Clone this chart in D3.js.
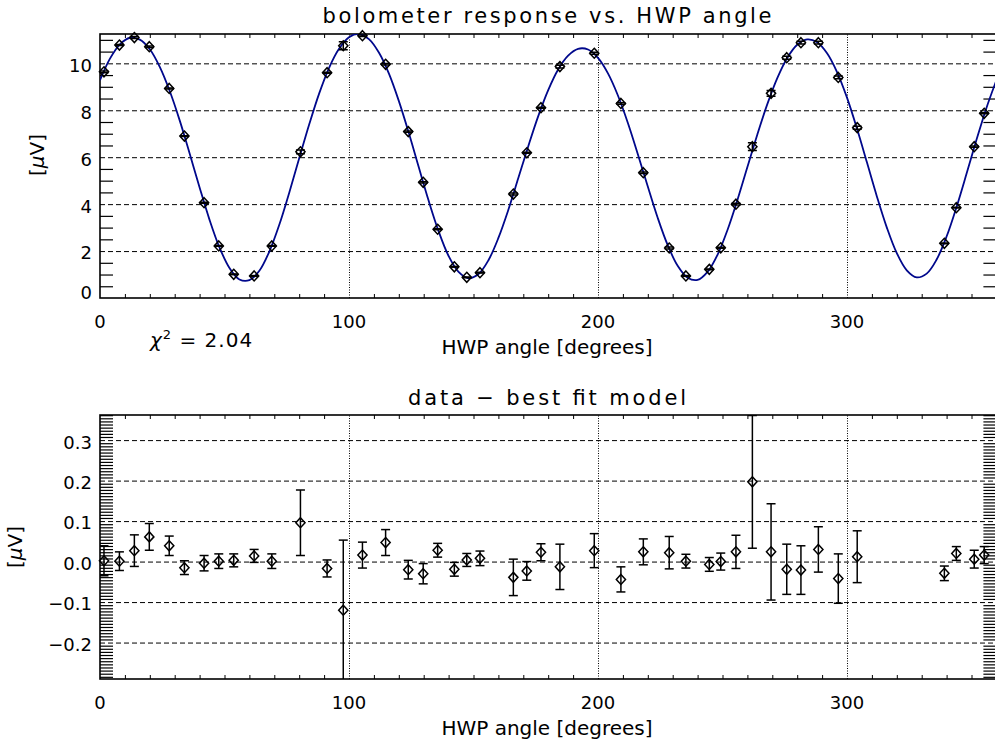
<!DOCTYPE html>
<html><head><meta charset="utf-8">
<script src="https://cdn.jsdelivr.net/npm/d3@7"></script>
<style>
body{margin:0;background:#fff}
text{font-family:"DejaVu Sans",sans-serif;fill:#000}
</style></head>
<body><svg id="chart" width="995" height="744"></svg>
<script>
// HWP angle of each measurement [degrees]
const angles=[1.6,7.8,13.8,19.8,27.8,33.9,41.8,47.7,53.7,61.9,69.0,80.5,91.2,97.7,105.4,114.7,123.8,129.8,135.6,142.3,147.3,152.6,166.0,171.4,177.1,184.7,198.5,209.2,218.2,228.6,235.3,244.7,249.3,255.4,262.0,269.5,275.8,281.5,288.5,296.5,304.1,339.1,343.9,351.1,355.1];
// bolometer response [uV]
const signal=[9.64,10.78,11.10,10.71,8.93,6.90,4.06,2.22,1.01,0.94,2.22,6.23,9.60,10.75,11.18,9.96,7.09,4.93,2.93,1.33,0.88,1.08,4.43,6.19,8.11,9.86,10.43,8.29,5.34,2.13,0.94,1.22,2.14,4.00,6.45,8.72,10.24,10.88,10.88,9.40,7.26,2.33,3.85,6.45,7.87];
// data minus best fit model [uV]
const residual=[0.002,0.001,0.027,0.061,0.039,-0.015,-0.004,0.001,0.003,0.014,0.001,0.096,-0.017,-0.120,0.016,0.047,-0.020,-0.030,0.028,-0.019,0.004,0.008,-0.039,-0.023,0.023,-0.013,0.027,-0.044,0.024,0.022,0.001,-0.007,0.000,0.024,0.197,0.024,-0.019,-0.021,0.030,-0.042,0.012,-0.029,0.020,0.006,0.016];
// 1-sigma uncertainty [uV]
const sigma=[0.037,0.023,0.039,0.033,0.024,0.017,0.019,0.018,0.016,0.016,0.018,0.081,0.021,0.173,0.032,0.032,0.023,0.025,0.017,0.017,0.016,0.018,0.045,0.023,0.021,0.056,0.042,0.031,0.032,0.040,0.017,0.017,0.021,0.041,0.164,0.119,0.062,0.060,0.056,0.061,0.064,0.018,0.017,0.022,0.021];
// best fit model, sampled every 4 degrees from 0 to 360 [uV]
const modelStep=4;
const modelValues=[9.28,10.20,10.81,11.09,11.01,10.60,9.85,8.82,7.57,
6.16,4.71,3.33,2.15,1.28,0.79,0.76,1.16,1.98,
3.12,4.49,5.95,7.39,8.71,9.81,10.62,11.11,11.25,
11.03,10.46,9.57,8.40,7.04,5.58,4.14,2.84,1.79,
1.11,0.84,1.02,1.61,2.56,3.76,5.11,6.47,7.75,
8.86,9.74,10.33,10.62,10.59,10.23,9.57,8.63,7.46,
6.13,4.75,3.41,2.25,1.37,0.86,0.77,1.11,1.84,
2.90,4.18,5.58,6.97,8.26,9.37,10.23,10.79,11.02,
10.90,10.43,9.63,8.54,7.22,5.78,4.33,3.00,1.91,
1.18,0.88,1.04,1.64,2.62,3.88,5.29,6.74,8.10,9.28];
const chiSquared="2.04";
const xLabelTicks=[0,100,200,300];
const xGridTicks=[100,200,300];
const upperLabelTicks=[0,2,4,6,8,10];
const upperGridTicks=[2,4,6,8,10];
const lowerLabelTicks=[-0.2,-0.1,0.0,0.1,0.2,0.3];

const svg=d3.select("#chart");
const x=d3.scaleLinear().domain([0,360]).range([100,996.4]);
const xMinor=d3.range(10,360,10).filter(v=>v%100!==0);

const yUpper=d3.scaleLinear().domain([0,11.25]).range([298,34]);
const yLower=d3.scaleLinear().domain([-0.29,0.362]).range([679,415]);

function styleLines(sel,dash,width){
  sel.select(".domain").remove();
  sel.selectAll("text").remove();
  sel.selectAll("line").attr("stroke","#000").attr("stroke-width",width||1).attr("stroke-dasharray",dash||null);
}

function panel(o){
  const y=o.y;
  const [yb,yt]=y.range();
  const [xl,xr]=x.range();
  const g=svg.append("g");
  const id="clip"+o.key;
  svg.append("clipPath").attr("id",id).append("rect").attr("x",xl).attr("y",yt).attr("width",xr-xl).attr("height",yb-yt);

  // horizontal dashed grid
  g.append("g").attr("transform",`translate(${xl},0)`)
    .call(d3.axisLeft(y).tickValues(o.grid).tickSize(-(xr-xl)))
    .call(s=>styleLines(s,"5,3"));
  // vertical dotted grid
  g.append("g").attr("transform",`translate(0,${yb})`)
    .call(d3.axisBottom(x).tickValues(xGridTicks).tickSize(-(yb-yt)))
    .call(s=>styleLines(s,"1,1.5"));
  // minor ticks on all four sides
  g.append("g").attr("transform",`translate(0,${yb})`)
    .call(d3.axisBottom(x).tickValues(xMinor).tickSize(-4)).call(s=>styleLines(s));
  g.append("g").attr("transform",`translate(0,${yt})`)
    .call(d3.axisTop(x).tickValues(xMinor).tickSize(-4)).call(s=>styleLines(s));
  g.append("g").attr("transform",`translate(${xl},0)`)
    .call(d3.axisLeft(y).tickValues(o.minor).tickSize(-13)).call(s=>styleLines(s,null,o.minorWidth));
  g.append("g").attr("transform",`translate(${xr},0)`)
    .call(d3.axisRight(y).tickValues(o.minor).tickSize(-13)).call(s=>styleLines(s,null,o.minorWidth));
  // frame
  g.append("rect").attr("x",xl).attr("y",yt).attr("width",xr-xl).attr("height",yb-yt)
    .attr("fill","none").attr("stroke","#000").attr("stroke-width",1.6);

  // tick labels
  g.selectAll(".xl").data(xLabelTicks).join("text")
    .attr("x",d=>x(d)).attr("y",yb+30).attr("text-anchor","middle").attr("font-size",18).text(d=>d);
  g.selectAll(".yl").data(o.labels).join("text")
    .attr("x",92).attr("y",d=>Math.min(y(d)+8.4,yb+1.3)).attr("text-anchor","end").attr("font-size",18)
    .text(o.fmt);

  // titles
  g.append("text").attr("x",547).attr("y",o.titleY).attr("text-anchor","middle").attr("font-size",21)
    .attr("textLength",o.titleLen).attr("lengthAdjust","spacing").text(o.title);
  g.append("text").attr("x",547).attr("y",yb+56).attr("text-anchor","middle").attr("font-size",20)
    .attr("textLength",211).attr("lengthAdjust","spacing").text("HWP angle [degrees]");
  const yl=g.append("text").attr("transform",`translate(${o.ylabelX},${o.ylabelY}) rotate(-90)`)
    .attr("text-anchor","middle").attr("font-size",20);
  yl.append("tspan").text("[");
  yl.append("tspan").attr("font-style","italic").text("\u03bc");
  yl.append("tspan").text("V]");
  return {g,clip:id};
}

function diamonds(g,xs,ys){
  g.selectAll(null).data(xs).join("path")
    .attr("transform",(d,i)=>`translate(${x(d)},${ys[i]})`)
    .attr("d","M0,-5L4.6,0L0,5L-4.6,0Z")
    .attr("fill","none").attr("stroke","#000").attr("stroke-width",1.5);
}
function errorBars(g,y,centers,errs,clip){
  const eg=g.append("g").attr("clip-path",`url(#${clip})`).attr("stroke","#000").attr("stroke-width",1.5);
  angles.forEach((a,i)=>{
    const cx=x(a),hi=y(centers[i]+errs[i]),lo=y(centers[i]-errs[i]);
    eg.append("line").attr("x1",cx).attr("x2",cx).attr("y1",hi).attr("y2",lo);
    eg.append("line").attr("x1",cx-4.5).attr("x2",cx+4.5).attr("y1",hi).attr("y2",hi);
    eg.append("line").attr("x1",cx-4.5).attr("x2",cx+4.5).attr("y1",lo).attr("y2",lo);
  });
}

// upper panel: response vs angle with model
const upper=panel({key:"upper",y:yUpper,grid:upperGridTicks,minor:d3.range(1,23).map(i=>i/2).filter(v=>v%2!==0),
  labels:upperLabelTicks,fmt:d=>d,title:"bolometer response vs. HWP angle",titleY:23,titleLen:449,
  ylabelX:44,ylabelY:155,minorWidth:1.2});
const modelLine=d3.line().x((d,i)=>x(i*modelStep)).y(d=>yUpper(d)).curve(d3.curveCatmullRom.alpha(0.5));
upper.g.append("path").attr("clip-path",`url(#${upper.clip})`).attr("d",modelLine(modelValues))
  .attr("fill","none").attr("stroke","#00088c").attr("stroke-width",1.8);
errorBars(upper.g,yUpper,signal,sigma,upper.clip);
diamonds(upper.g,angles,signal.map(v=>yUpper(v)));
const chi=upper.g.append("text").attr("x",150).attr("y",347).attr("font-size",20).attr("letter-spacing",1);
chi.append("tspan").attr("font-style","italic").text("\u03c7");
chi.append("tspan").attr("font-size",13).attr("dy",-8).text("2");
chi.append("tspan").attr("dy",8).text(" = "+chiSquared);

// lower panel: residuals, minor ticks at 13 per labelled interval
const fmt=d3.format(".1f");
const lowerMinor=d3.range(-37,48).filter(i=>i%13!==0).map(i=>i*0.1/13);
const lower=panel({key:"lower",y:yLower,grid:lowerLabelTicks,minor:lowerMinor,
  labels:lowerLabelTicks,fmt:d=>fmt(d),title:"data \u2212 best fit model",titleY:405,titleLen:278,
  ylabelX:22,ylabelY:547,minorWidth:1.2});
errorBars(lower.g,yLower,residual,sigma,lower.clip);
diamonds(lower.g,angles,residual.map(v=>yLower(v)));
</script></body></html>
